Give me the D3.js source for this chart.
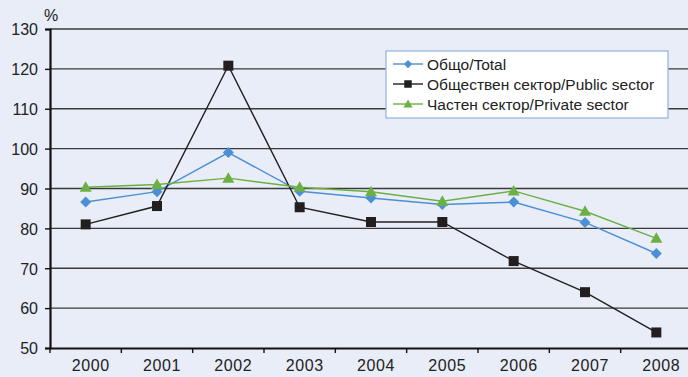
<!DOCTYPE html>
<html>
<head>
<meta charset="utf-8">
<script src="https://cdn.jsdelivr.net/npm/d3@7"></script>
<style>
  html, body { margin: 0; padding: 0; background: #e8edf7; }
  svg { display: block; font-family: "Liberation Sans", Arial, sans-serif; }
</style>
</head>
<body>
<svg id="chart" width="688" height="377"></svg>
<script>
// Years on the horizontal axis
const years = ["2000", "2001", "2002", "2003", "2004", "2005", "2006", "2007", "2008"];
// Index values, %
const totalValues   = [86.6, 89.2, 99.0, 89.3, 87.6, 86.0, 86.6, 81.5, 73.7];
const publicValues  = [81.0, 85.6, 120.8, 85.3, 81.6, 81.6, 71.8, 64.0, 53.9];
const privateValues = [90.3, 91.0, 92.6, 90.3, 89.2, 86.8, 89.4, 84.3, 77.5];
const yTicks = [50, 60, 70, 80, 90, 100, 110, 120, 130];
const seriesNames = ["Общо/Total", "Обществен сектор/Public sector", "Частен сектор/Private sector"];

const series = [
  { name: seriesNames[0], values: totalValues,   color: "#4b8fd5", marker: "diamond" },
  { name: seriesNames[1], values: publicValues,  color: "#231f20", marker: "square" },
  { name: seriesNames[2], values: privateValues, color: "#6cb043", marker: "triangle" }
];

const svg = d3.select("#chart");
const margin = { left: 50, right: -4, top: 29, bottom: 29 };
const W = 688, H = 377;

const x = d3.scaleBand().domain(years).range([margin.left, W - margin.right]);
const y = d3.scaleLinear().domain([50, 130]).range([H - margin.bottom, margin.top]);

// Horizontal gridlines
svg.append("g").selectAll("line").data(yTicks.filter(d => d > 50)).join("line")
  .attr("x1", margin.left).attr("x2", W)
  .attr("y1", d => y(d)).attr("y2", d => y(d))
  .attr("stroke", "#3a3a3a").attr("stroke-width", 1.4);

// Y axis
const yAxis = svg.append("g").attr("transform", `translate(${margin.left},0)`)
  .call(d3.axisLeft(y).tickValues(yTicks).tickSize(5).tickPadding(7));
yAxis.select(".domain").attr("stroke", "#111").attr("stroke-width", 2.2);
yAxis.selectAll(".tick line").attr("stroke", "#111").attr("stroke-width", 1.4);
yAxis.selectAll("text").attr("font-size", 16).attr("fill", "#222").attr("dy", "0.36em");

// X axis
const xAxis = svg.append("g").attr("transform", `translate(0,${y(50)})`)
  .call(d3.axisBottom(x).tickSize(0).tickPadding(12));
xAxis.select(".domain").attr("stroke", "#111").attr("stroke-width", 2.2);
xAxis.selectAll("text").attr("font-size", 16).attr("fill", "#222")
  .attr("letter-spacing", "0.6px").attr("dx", 5);
// Category boundary ticks
svg.append("g").selectAll("line").data(years).join("line")
  .attr("x1", d => x(d)).attr("x2", d => x(d))
  .attr("y1", y(50)).attr("y2", y(50) + 5)
  .attr("stroke", "#111").attr("stroke-width", 1.4);

// Unit label
svg.append("text").attr("x", 44).attr("y", 21).attr("font-size", 16).attr("fill", "#222").text("%");

const cx = d => x(d) + x.bandwidth() / 2;

function drawMarker(sel, type, color) {
  if (type === "diamond") {
    sel.append("path").attr("d", "M0,-5.5L5.5,0L0,5.5L-5.5,0Z").attr("fill", color);
  } else if (type === "square") {
    sel.append("rect").attr("x", -5).attr("y", -5).attr("width", 10).attr("height", 10).attr("fill", color);
  } else {
    sel.append("path").attr("d", "M0,-6L6,4.5L-6,4.5Z").attr("fill", color);
  }
}

const line = d3.line().x((d, i) => cx(years[i])).y(d => y(d));

series.forEach(s => {
  svg.append("path").datum(s.values)
    .attr("d", line).attr("fill", "none")
    .attr("stroke", s.color).attr("stroke-width", 1.4);
  svg.append("g").selectAll("g").data(s.values).join("g")
    .attr("transform", (d, i) => `translate(${cx(years[i])},${y(d)})`)
    .each(function() { drawMarker(d3.select(this), s.marker, s.color); });
});

// Legend
const lg = svg.append("g").attr("transform", "translate(386,51)");
lg.append("rect").attr("width", 282).attr("height", 67)
  .attr("fill", "#ffffff").attr("stroke", "#8fb3dc").attr("stroke-width", 1.2);
series.forEach((s, i) => {
  const row = lg.append("g").attr("transform", `translate(0,${13 + i * 20})`);
  row.append("line").attr("x1", 7).attr("x2", 37).attr("y1", 0).attr("y2", 0)
    .attr("stroke", s.color).attr("stroke-width", 1.4);
  const m = row.append("g").attr("transform", "translate(22,0) scale(0.75)");
  drawMarker(m, s.marker, s.color);
  row.append("text").attr("x", 41).attr("y", 0).attr("dy", "0.36em")
    .attr("font-size", 15.5).attr("fill", "#222").text(s.name);
});
</script>
</body>
</html>
